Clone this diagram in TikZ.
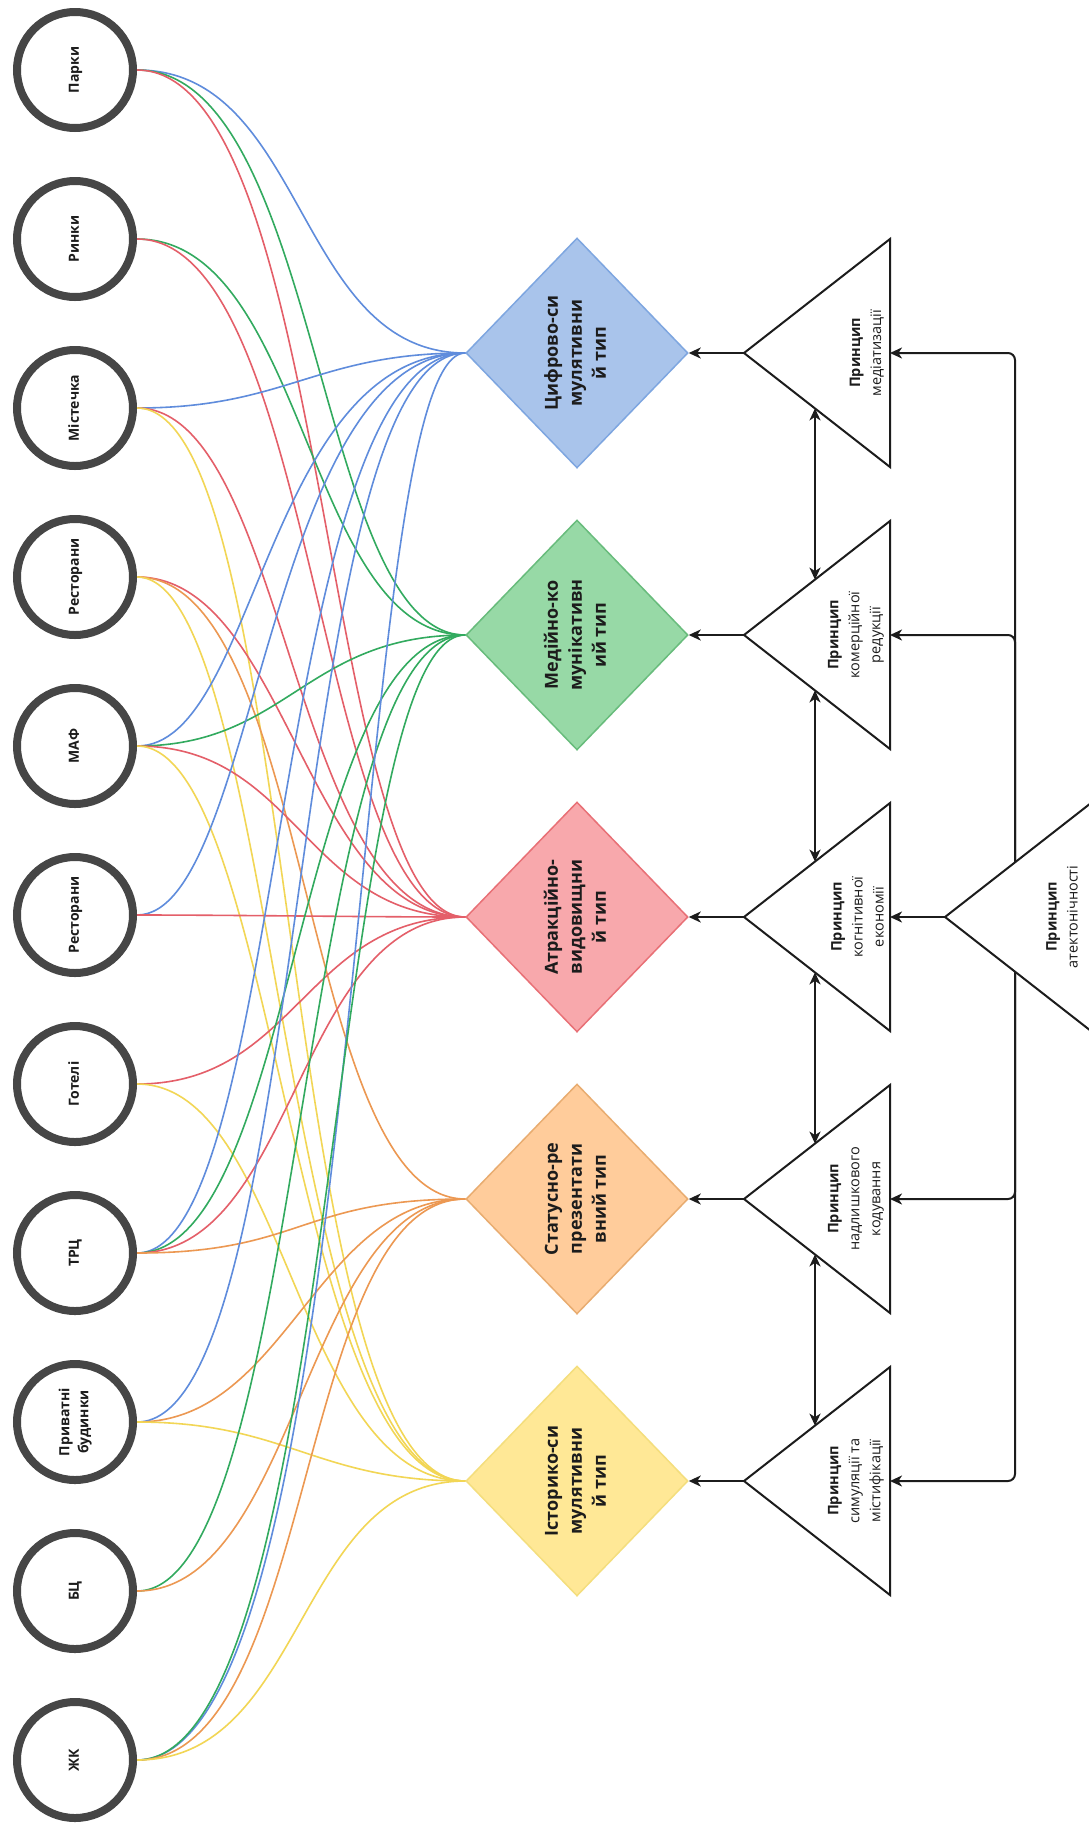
\documentclass[tikz,border=0pt]{standalone}
\usepackage{fontspec}
\setmainfont{Open Sans}
\usepackage{graphicx}
\usetikzlibrary{shapes.geometric,arrows.meta}
\definecolor{lblue}{RGB}{95,140,220}
\definecolor{lgreen}{RGB}{50,170,95}
\definecolor{lred}{RGB}{228,95,105}
\definecolor{lorange}{RGB}{236,152,82}
\definecolor{lyellow}{RGB}{242,214,85}
\definecolor{fblue}{RGB}{169,196,235}
\definecolor{sblue}{RGB}{126,166,224}
\definecolor{fgreen}{RGB}{151,217,166}
\definecolor{sgreen}{RGB}{104,188,124}
\definecolor{fred}{RGB}{248,168,172}
\definecolor{sred}{RGB}{232,112,118}
\definecolor{forange}{RGB}{255,204,155}
\definecolor{sorange}{RGB}{232,172,112}
\definecolor{fyellow}{RGB}{255,232,150}
\definecolor{syellow}{RGB}{244,222,125}
\definecolor{ink}{RGB}{28,28,28}
\definecolor{ring}{RGB}{70,70,70}
\newcommand\rtx[1]{\rotatebox{90}{\begin{tabular}{@{}c@{}}#1\end{tabular}}}
\newcommand\lnk[5]{\draw[#3] (c#1.east) .. controls +(#4,0) and +(-#5,0) .. (d#2.west);}
\begin{document}
\begin{tikzpicture}[x=1pt,y=-1pt,
  conn/.style={line width=1.6pt},
  cb/.style={conn,lblue}, cg/.style={conn,lgreen}, cr/.style={conn,lred},
  co/.style={conn,lorange}, cy/.style={conn,lyellow},
  circ/.style={circle,draw=ring,fill=white,line width=8pt,minimum size=116pt,inner sep=0pt,
    font=\fontsize{14}{19}\selectfont\bfseries,text=ink},
  dia/.style={diamond,minimum width=222pt,minimum height=230pt,inner sep=0pt,line width=1.5pt,
    font=\fontsize{18}{24}\selectfont\bfseries,text=ink},
  tri/.style={draw=ink,fill=white,line width=2pt,line join=miter},
  ttext/.style={rotate=90,anchor=south,align=center,font=\fontsize{14.5}{21}\selectfont,text=ink,inner sep=0pt},
  arr/.style={draw=ink,line width=2pt,-{Stealth[length=12pt,width=11pt,inset=3.5pt]}},
  darr/.style={draw=ink,line width=2pt,{Stealth[length=12pt,width=11pt,inset=3.5pt]}-{Stealth[length=12pt,width=11pt,inset=3.5pt]}},
  bus/.style={arr,rounded corners=7pt}
]
\useasboundingbox (0,0) rectangle (1089,1829);
\fill[white] (0,0) rectangle (1089,1829);

% anchor nodes for diamonds and circles
\path (577,353) node[dia] (d1) {}
      (577,635) node[dia] (d2) {}
      (577,917) node[dia] (d3) {}
      (577,1199) node[dia] (d4) {}
      (577,1481) node[dia] (d5) {};
\foreach \i in {0,...,10} { \path (75,70+169*\i) node[circ,draw=none,fill=none] (c\i) {}; }

% connectors
\lnk{0}{1}{cb}{170}{170}
\lnk{0}{2}{cg}{185}{150}
\lnk{0}{3}{cr}{195}{145}
\lnk{1}{2}{cg}{170}{160}
\lnk{1}{3}{cr}{180}{150}
\lnk{2}{1}{cb}{150}{150}
\lnk{2}{3}{cr}{150}{175}
\lnk{2}{5}{cy}{165}{190}
\lnk{3}{3}{cr}{150}{160}
\lnk{3}{4}{co}{175}{165}
\lnk{3}{5}{cy}{140}{185}
\lnk{4}{1}{cb}{120}{200}
\lnk{4}{2}{cg}{150}{160}
\lnk{4}{3}{cr}{160}{160}
\lnk{4}{5}{cy}{140}{175}
\lnk{5}{1}{cb}{120}{200}
\lnk{5}{3}{cr}{100}{100}
\lnk{6}{3}{cr}{160}{160}
\lnk{6}{5}{cy}{150}{170}
\lnk{7}{1}{cb}{150}{195}
\lnk{7}{2}{cg}{160}{170}
\lnk{7}{3}{cr}{160}{170}
\lnk{7}{4}{co}{165}{165}
\lnk{8}{1}{cb}{175}{180}
\lnk{8}{4}{co}{150}{150}
\lnk{8}{5}{cy}{150}{150}
\lnk{9}{2}{cg}{170}{170}
\lnk{9}{4}{co}{160}{160}
\lnk{10}{1}{cb}{235}{120}
\lnk{10}{2}{cg}{205}{140}
\lnk{10}{4}{co}{180}{170}
\lnk{10}{5}{cy}{170}{170}

% circles
\foreach \i/\t in {0/Парки,1/Ринки,2/Містечка,3/Ресторани,4/МАФ,5/Ресторани,6/Готелі,7/ТРЦ,8/{Приватні\\будинки},9/БЦ,10/ЖК} {
  \node[circ] (k\i) at (c\i) {\rtx{\t}};
}

% diamonds
\node[dia,fill=fblue,draw=sblue] (e1) at (d1) {\rtx{Цифрово-си\\мулятивни\\й тип}};
\node[dia,fill=fgreen,draw=sgreen] (e2) at (d2) {\rtx{Медійно-ко\\мунікативн\\ий тип}};
\node[dia,fill=fred,draw=sred] (e3) at (d3) {\rtx{Атракційно-\\видовищни\\й тип}};
\node[dia,fill=forange,draw=sorange] (e4) at (d4) {\rtx{Статусно-ре\\презентати\\вний тип}};
\node[dia,fill=fyellow,draw=syellow] (e5) at (d5) {\rtx{Історико-си\\мулятивни\\й тип}};

% principle triangles
\foreach \i/\y in {1/353,2/635,3/917,4/1199,5/1481} {
  \coordinate (ta\i) at (744,\y);
  \coordinate (tm\i) at (890,\y);
  \coordinate (tlo\i) at (815,\y+55.4);
  \coordinate (tup\i) at (815,\y-55.4);
  \draw[tri] (ta\i) -- (890,\y-114) -- (890,\y+114) -- cycle;
  \draw[arr] (ta\i) -- (d\i.east);
}
\node[ttext] (p1) at (884,353) {\textbf{Принцип}\\медіатизації};
\node[ttext] (p2) at (884,635) {\textbf{Принцип}\\комерційної\\редукції};
\node[ttext] (p3) at (884,917) {\textbf{Принцип}\\когнітивної\\економії};
\node[ttext] (p4) at (884,1199) {\textbf{Принцип}\\надлишкового\\кодування};
\node[ttext] (p5) at (884,1481) {\textbf{Принцип}\\симуляції та\\містифікації};

\draw[darr] (tlo1) -- (tup2);
\draw[darr] (tlo2) -- (tup3);
\draw[darr] (tlo3) -- (tup4);
\draw[darr] (tlo4) -- (tup5);

% bus from the big triangle
\coordinate (bta) at (945,917);
\coordinate (btop) at (1015,862);
\coordinate (bbot) at (1015,972);
\draw[bus] (btop) |- (tm1);
\draw[bus] (btop) |- (tm2);
\draw[bus] (bbot) |- (tm4);
\draw[bus] (bbot) |- (tm5);
\draw[tri] (bta) -- (1091,803) -- (1091,1031) -- cycle;
\draw[arr] (bta) -- (tm3);
\node[ttext] (p6) at (1078,917) {\textbf{Принцип}\\атектонічності};
\end{tikzpicture}
\end{document}
